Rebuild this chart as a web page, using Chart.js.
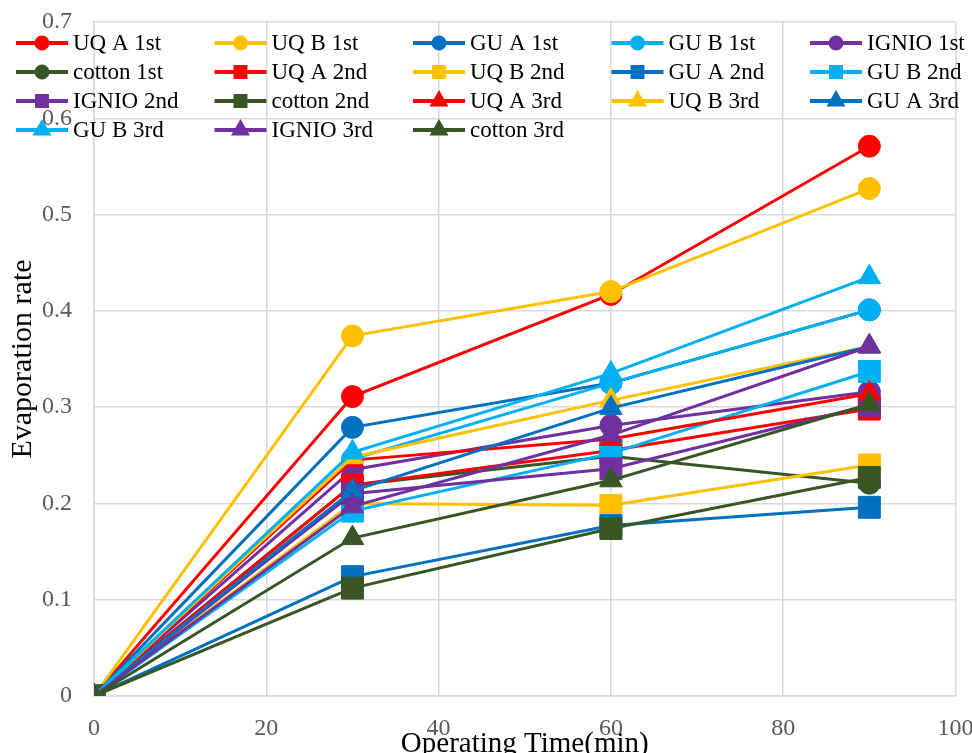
<!DOCTYPE html>
<html>
<head>
<meta charset="utf-8">
<script src="https://cdn.jsdelivr.net/npm/chart.js@4/dist/chart.umd.min.js"></script>
<style>
  html, body { margin: 0; padding: 0; background: #fff; overflow: hidden; }
  #wrap { width: 972px; height: 753px; }
</style>
</head>
<body>
<div id="wrap"><canvas id="chart" width="972" height="753"></canvas></div>
<script>
// operating time (min)
const times = [0, 30, 60, 90];
const xTicks = [0, 20, 40, 60, 80, 100];

// evaporation rate per run
const uqA1 = [0, 0.311, 0.417, 0.571];
const uqB1 = [0, 0.374, 0.420, 0.527];
const guA1 = [0, 0.279, 0.325, 0.401];
const guB1 = [0, 0.246, 0.325, 0.401];
const ignio1 = [0, 0.235, 0.281, 0.316];
const cotton1 = [0, 0.219, 0.249, 0.221];
const uqA2 = [0, 0.219, 0.255, 0.298];
const uqB2 = [0, 0.200, 0.198, 0.240];
const guA2 = [0, 0.124, 0.177, 0.196];
const guB2 = [0, 0.192, 0.252, 0.337];
const ignio2 = [0, 0.210, 0.236, 0.302];
const cotton2 = [0, 0.112, 0.174, 0.227];
const uqA3 = [0, 0.245, 0.267, 0.314];
const uqB3 = [0, 0.248, 0.307, 0.363];
const guA3 = [0, 0.213, 0.299, 0.363];
const guB3 = [0, 0.253, 0.335, 0.435];
const ignio3 = [0, 0.197, 0.271, 0.363];
const cotton3 = [0, 0.164, 0.224, 0.303];

const colors = {
    uqA: '#FF0000',
    uqB: '#FFC000',
    guA: '#0070C0',
    guB: '#00B0F0',
    ignio: '#7030A0',
    cotton: '#375623'
};

const series = [
    ['UQ A 1st', uqA1, colors.uqA, 'circle'],
    ['UQ B 1st', uqB1, colors.uqB, 'circle'],
    ['GU A 1st', guA1, colors.guA, 'circle'],
    ['GU B 1st', guB1, colors.guB, 'circle'],
    ['IGNIO 1st', ignio1, colors.ignio, 'circle'],
    ['cotton 1st', cotton1, colors.cotton, 'circle'],
    ['UQ A 2nd', uqA2, colors.uqA, 'rect'],
    ['UQ B 2nd', uqB2, colors.uqB, 'rect'],
    ['GU A 2nd', guA2, colors.guA, 'rect'],
    ['GU B 2nd', guB2, colors.guB, 'rect'],
    ['IGNIO 2nd', ignio2, colors.ignio, 'rect'],
    ['cotton 2nd', cotton2, colors.cotton, 'rect'],
    ['UQ A 3rd', uqA3, colors.uqA, 'triangle'],
    ['UQ B 3rd', uqB3, colors.uqB, 'triangle'],
    ['GU A 3rd', guA3, colors.guA, 'triangle'],
    ['GU B 3rd', guB3, colors.guB, 'triangle'],
    ['IGNIO 3rd', ignio3, colors.ignio, 'triangle'],
    ['cotton 3rd', cotton3, colors.cotton, 'triangle']
];

const markerRadius = { circle: 11, rect: 15.5, triangle: 13 };
const legendRadius = { circle: 5.5, rect: 7, triangle: 7 };

const datasets = series.map((s, i) => ({
    label: s[0],
    data: times.map((t, j) => ({ x: t, y: s[1][j] })),
    borderColor: s[2],
    backgroundColor: s[2],
    pointBackgroundColor: s[2],
    pointBorderColor: s[2],
    pointStyle: s[3],
    pointRadius: markerRadius[s[3]],
    pointBorderWidth: 1,
    borderWidth: 3,
    tension: 0,
    order: series.length - i   // later series on top, like Excel
}));

const gridColor = '#d9d9d9';
const serif = '"Liberation Serif", "DejaVu Serif", serif';

// legend sits inside the plot area, on top of the gridlines
const overlayLegend = {
    id: 'overlayLegend',
    afterDraw(chart) {
        const ctx = chart.ctx;
        ctx.save();
        ctx.font = '23px ' + serif;
        ctx.textBaseline = 'middle';
        ctx.textAlign = 'left';
        chart.data.datasets.forEach((ds, i) => {
            const col = i % 5;
            const row = Math.floor(i / 5);
            const x0 = 16 + col * 198.5;
            const y = 43 + row * 29;
            ctx.strokeStyle = ds.borderColor;
            ctx.lineWidth = 4;
            ctx.beginPath();
            ctx.moveTo(x0, y);
            ctx.lineTo(x0 + 52, y);
            ctx.stroke();
            Chart.helpers.drawPoint(ctx, {
                pointStyle: ds.pointStyle,
                radius: legendRadius[ds.pointStyle],
                rotation: 0,
                borderWidth: 1
            }, x0 + 26, y);
            ctx.fillStyle = ds.borderColor;
            ctx.fill();
            ctx.fillStyle = '#000';
            ctx.fillText(ds.label, x0 + 57, y + 1);
        });
        ctx.restore();
    }
};

new Chart(document.getElementById('chart'), {
    type: 'line',
    data: { datasets: datasets },
    options: {
        responsive: false,
        animation: false,
        layout: { padding: { top: 22, right: 16, left: 0, bottom: 0 } },
        plugins: {
            legend: { display: false },
            tooltip: { enabled: false }
        },
        scales: {
            x: {
                type: 'linear',
                min: 0,
                max: 100,
                afterBuildTicks: scale => { scale.ticks = xTicks.map(v => ({ value: v })); },
                afterFit: scale => {
                    scale.height = 57;
                    scale.paddingLeft = 0;
                    scale.paddingRight = 0;
                },
                grid: { color: gridColor, lineWidth: 1.5, drawTicks: false },
                border: { color: gridColor, width: 1.5 },
                ticks: {
                    color: '#595959',
                    padding: 18,
                    font: { family: serif, size: 24 }
                },
                title: {
                    display: true,
                    text: 'Operating Time(min)',
                    color: '#000',
                    font: { family: serif, size: 29 },
                    padding: { top: 0, bottom: -9 }
                }
            },
            y: {
                min: 0,
                max: 0.7,
                afterFit: scale => {
                    scale.width = 94;
                    scale.paddingTop = 0;
                    scale.paddingBottom = 0;
                },
                grid: { color: gridColor, lineWidth: 1.5, drawTicks: false },
                border: { color: gridColor, width: 1.5 },
                ticks: {
                    stepSize: 0.1,
                    color: '#595959',
                    padding: 22,
                    font: { family: serif, size: 24 },
                    callback: v => (Math.round(v * 10) / 10).toString()
                },
                title: {
                    display: true,
                    text: 'Evaporation rate',
                    color: '#000',
                    font: { family: serif, size: 30 },
                    padding: { top: 5, bottom: 0 }
                }
            }
        }
    },
    plugins: [overlayLegend]
});
</script>
</body>
</html>
